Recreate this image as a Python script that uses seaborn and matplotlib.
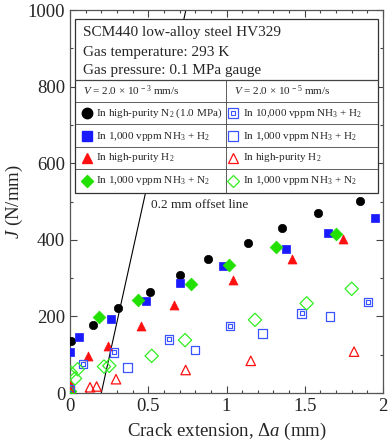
import matplotlib
matplotlib.use("Agg")
import matplotlib.pyplot as plt
from matplotlib.ticker import MultipleLocator
from matplotlib.patches import Rectangle
from matplotlib.lines import Line2D
import seaborn as sns
import numpy as np

sns.set_theme(style="ticks")
plt.rcParams['font.family'] = ['Liberation Serif', 'DejaVu Serif']
plt.rcParams['mathtext.fontset'] = 'custom'
plt.rcParams['mathtext.rm'] = 'Liberation Serif'
plt.rcParams['mathtext.it'] = 'Liberation Serif:italic'

# ---- data (Δa in mm, J in N/mm) ----
n2_fast_x = [0.006, 0.149, 0.307, 0.511, 0.703, 0.884, 1.139, 1.353, 1.583, 1.853]
n2_fast_y = [137, 178, 221, 264, 308, 351, 391, 432, 469, 502]

nh3h2_fast_x = [0.0, 0.058, 0.262, 0.484, 0.703, 0.976, 1.378, 1.647, 1.949]
nh3h2_fast_y = [108, 147, 192, 239, 286, 332, 377, 417, 457]

h2_fast_x = [0.0, 0.117, 0.245, 0.456, 0.667, 1.04, 1.42, 1.743]
h2_fast_y = [27, 97, 123, 176, 229, 295, 350, 401]

nh3n2_fast_x = [0.0, 0.183, 0.432, 0.773, 1.016, 1.316, 1.70]
nh3n2_fast_y = [5, 198, 243, 285, 334, 380, 415]

nh3h2_10k_slow_x = [0.0, 0.085, 0.283, 0.633, 1.022, 1.48, 1.906]
nh3h2_10k_slow_y = [10, 75, 106, 140, 175, 208, 238]

nh3h2_slow_x = [0.366, 0.799, 1.229, 1.661]
nh3h2_slow_y = [67, 112, 156, 199]

h2_slow_x = [0.006, 0.128, 0.17, 0.294, 0.739, 1.155, 1.815]
h2_slow_y = [2, 15, 17, 36, 60, 84, 108]

nh3n2_slow_x = [0.006, 0.032, 0.049, 0.217, 0.251, 0.522, 0.735, 1.182, 1.512, 1.80]
nh3n2_slow_y = [53, 38, 62, 69, 71, 97, 138, 191, 234, 272]

offset = 0.2
offset_slope = 1850

header_lines = ["SCM440 low-alloy steel HV329",
                "Gas temperature: 293 K",
                "Gas pressure: 0.1 MPa gauge"]
col_titles = [r"$V$ = 2.0 × 10$^{\,-3}$ mm/s", r"$V$ = 2.0 × 10$^{\,-5}$ mm/s"]
left_labels = [r"In high-purity N$_2$ (1.0 MPa)", r"In 1,000 vppm NH$_3$ + H$_2$",
               r"In high-purity H$_2$", r"In 1,000 vppm NH$_3$ + N$_2$"]
right_labels = [r"In 10,000 vppm NH$_3$ + H$_2$", r"In 1,000 vppm NH$_3$ + H$_2$",
                r"In high-purity H$_2$", r"In 1,000 vppm NH$_3$ + N$_2$"]

BLUE = '#1a1aff'
LBLUE = '#3a55ff'
RED = '#ff1010'
GREEN = '#22e000'
LGREEN = '#33ee22'

fig = plt.figure(figsize=(3.9, 4.44), dpi=100)
ax = fig.add_axes([70/390, 1-393/444, 313/390, 383/444])

def filled(x, y, marker, color, s):
    sns.scatterplot(x=x, y=y, marker=marker, s=s, color=color, edgecolor=color,
                    linewidth=0.5, ax=ax, zorder=3)

def hollow(x, y, marker, color, s, lw=0.9):
    ax.scatter(x, y, marker=marker, s=s, facecolors='none', edgecolors=color,
               linewidths=lw, zorder=3)

filled(n2_fast_x, n2_fast_y, 'o', 'black', 36)
filled(nh3h2_fast_x, nh3h2_fast_y, 's', BLUE, 36)
filled(h2_fast_x, h2_fast_y, '^', RED, 42)
filled(nh3n2_fast_x, nh3n2_fast_y, 'D', GREEN, 42)
hollow(nh3h2_10k_slow_x, nh3h2_10k_slow_y, 's', LBLUE, 36)
hollow(nh3h2_10k_slow_x, nh3h2_10k_slow_y, 's', LBLUE, 8, 0.8)
hollow(nh3h2_slow_x, nh3h2_slow_y, 's', LBLUE, 40)
hollow(h2_slow_x, h2_slow_y, '^', RED, 46)
hollow(nh3n2_slow_x, nh3n2_slow_y, 'D', LGREEN, 46)

# offset line
lx = np.array([offset, offset + 1000 / offset_slope])
ax.plot(lx, offset_slope * (lx - offset), color='black', lw=0.8, zorder=2)
ax.text(0.516, 491, "0.2 mm offset line", fontsize=9.5, va='center', ha='left')

ax.set_xlim(0, 2)
ax.set_ylim(0, 1000)
ax.xaxis.set_major_locator(MultipleLocator(0.5))
ax.xaxis.set_minor_locator(MultipleLocator(0.1))
ax.yaxis.set_major_locator(MultipleLocator(200))
ax.yaxis.set_minor_locator(MultipleLocator(100))
ax.set_xticks([0, 0.5, 1, 1.5, 2])
ax.set_xticklabels(['0', '0.5', '1', '1.5', '2'])
ax.tick_params(which='both', direction='in', top=True, right=True, labelsize=13.5,
               color='#444444', width=0.8)
ax.tick_params(which='major', length=5)
ax.tick_params(which='minor', length=2.5)
for sp in ax.spines.values():
    sp.set_color('#555555')
    sp.set_linewidth(0.9)
ax.set_xlabel(r"Crack extension, Δ$a$ (mm)", fontsize=13.5, labelpad=4)
ax.set_ylabel(r"$J$ (N/mm)", fontsize=13.5, labelpad=2)

# legend table
T = ax.transAxes
bl, br, bt, bb = 0.016, 0.984, 0.9765, 0.522
ax.add_patch(Rectangle((bl, bb), br - bl, bt - bb, transform=T, facecolor='white',
                       edgecolor='#333333', lw=0.9, zorder=5))
hl = [0.817, 0.760, 0.702, 0.642, 0.585]
for i, yv in enumerate(hl):
    ax.add_line(Line2D([bl, br], [yv, yv], transform=T, color='#444444',
                       lw=0.9 if i == 0 else 0.6, zorder=6))
ax.add_line(Line2D([0.498, 0.498], [bb, hl[0]], transform=T, color='#444444', lw=0.6, zorder=6))
for t, yv in zip(header_lines, [0.940, 0.890, 0.843]):
    ax.text(0.0405, yv, t, transform=T, fontsize=11, va='center', ha='left', zorder=7)
ax.text(0.0405, 0.789, col_titles[0], transform=T, fontsize=8, va='center', zorder=7)
ax.text(0.524, 0.789, col_titles[1], transform=T, fontsize=8, va='center', zorder=7)
rows_y = [0.731, 0.671, 0.614, 0.554]
lmark = [('o', 'black'), ('s', BLUE), ('^', RED), ('D', GREEN)]
rmark = [('s', LBLUE), ('s', LBLUE), ('^', RED), ('D', LGREEN)]
for i, yv in enumerate(rows_y):
    m, c = lmark[i]
    ax.plot([0.053], [yv], marker=m, color=c, ms=7.5 if m != 'D' else 6.5, transform=T,
            zorder=7, clip_on=False)
    ax.text(0.082, yv, left_labels[i], transform=T, fontsize=8, va='center', zorder=7)
    m, c = rmark[i]
    ax.plot([0.522], [yv], marker=m, mfc='white', mec=c, mew=0.9,
            ms=7.5 if m != 'D' else 6.5, transform=T, zorder=7, clip_on=False)
    if i == 0:
        ax.plot([0.522], [yv], marker='s', mfc='white', mec=c, mew=0.8, ms=3.5,
                transform=T, zorder=8, clip_on=False)
    ax.text(0.553, yv, right_labels[i], transform=T, fontsize=8, va='center', zorder=7)

fig.savefig("out.png", dpi=100)
